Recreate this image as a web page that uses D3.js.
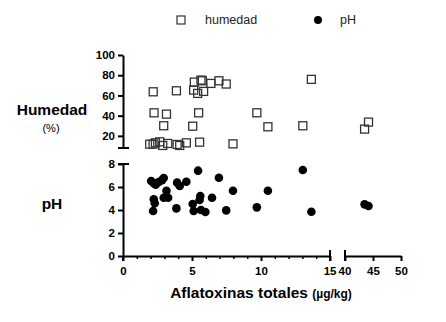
<!DOCTYPE html>
<html><head><meta charset="utf-8">
<script src="https://cdn.jsdelivr.net/npm/d3@7"></script>
<style>body{margin:0;background:#fff}svg{display:block}text{font-family:"Liberation Sans",Arial,sans-serif}</style>
</head><body><svg id="c" width="446" height="322"></svg>
<script>
const humX = [2.19,3.87,5.17,5.65,5.75,6.37,6.95,7.48,5.12,5.41,5.84,2.25,3.15,5.48,9.70,2.95,5.05,10.5,1.94,2.18,2.35,2.66,2.88,3.24,3.92,4.11,4.59,5.55,7.97,13.65,13.03,44.2,43.5];
const humY = [63.6,64.6,73.2,75.2,74.5,71.9,74.5,71.3,65.3,62,64,42.8,41.5,42.8,42.8,30,29.6,29,11.8,11.8,13.1,14.1,10.5,12.5,11.5,10.5,13.1,13.8,12.1,75.9,30,33.6,26.7];
const phX = [2.04,2.23,2.37,2.59,2.83,2.95,2.23,2.30,2.18,3.15,2.95,3.27,3.87,3.92,4.11,4.59,5.44,5.05,5.12,5.55,5.6,5.65,5.97,6.45,6.95,7.48,7.97,9.70,10.5,13.03,13.65,43.5,44.2];
const phY = [6.52,6.32,6.2,6.43,6.6,6.78,4.93,4.58,3.91,5.68,5.07,5.07,4.14,6.38,6.09,6.46,7.42,4.52,3.91,4.87,5.22,4.0,3.83,5.07,6.81,3.97,5.68,4.23,5.68,7.48,3.85,4.49,4.35];
const xTicksA = [0,5,10,15];
const xTicksB = [40,45,50];
const humTicks = [20,40,60,80,100];
const phTicks = [0,2,4,6,8];

const svg = d3.select("#c");
const xA = d3.scaleLinear().domain([0,15]).range([123,330]);
const xB = d3.scaleLinear().domain([40,50]).range([345,401]);
const xs = v => v >= 40 ? xB(v) : xA(v);
const yH = d3.scaleLinear().domain([8,100]).range([148,55]);
const yP = d3.scaleLinear().domain([0,8]).range([256,164]);

function style(g){
  g.selectAll("path,line").attr("stroke","#000").attr("stroke-width",2);
  g.selectAll("text").attr("font-size","11.5px").attr("font-weight","bold").attr("fill","#000");
}
const gxA = svg.append("g").attr("transform","translate(0,256)")
  .call(d3.axisBottom(xA).tickValues(xTicksA).tickSize(5).tickSizeOuter(0).tickPadding(6));
style(gxA);
gxA.selectAll(".tick text").filter(d=>d===15).attr("text-anchor","end").attr("dx","6");
svg.append("g").attr("transform","translate(0,256)")
  .call(d3.axisBottom(xA).tickValues(d3.range(1,15).filter(d=>d%5)).tickSize(3).tickFormat(""))
  .call(g=>{g.select(".domain").remove();g.selectAll("line").attr("stroke","#000").attr("stroke-width",1.5);});
const gxB = svg.append("g").attr("transform","translate(0,256)")
  .call(d3.axisBottom(xB).tickValues(xTicksB).tickSize(5).tickSizeOuter(0).tickPadding(6));
style(gxB);
gxB.selectAll(".tick text").filter(d=>d===40).attr("text-anchor","start").attr("dx","-7");
[xA(15), xB(40)].forEach(x=>svg.append("line").attr("x1",x).attr("x2",x).attr("y1",250).attr("y2",261).attr("stroke","#000").attr("stroke-width",2));

const gH = svg.append("g").attr("transform","translate(123,0)")
  .call(d3.axisLeft(yH).tickValues(humTicks).tickSize(5).tickSizeOuter(0).tickPadding(3));
style(gH);
svg.append("line").attr("x1",118).attr("x2",129).attr("y1",yH(8)).attr("y2",yH(8)).attr("stroke","#000").attr("stroke-width",2);
const gP = svg.append("g").attr("transform","translate(123,0)")
  .call(d3.axisLeft(yP).tickValues(phTicks).tickSize(5).tickSizeOuter(0).tickPadding(3));
style(gP);
svg.append("line").attr("x1",118).attr("x2",129).attr("y1",yP(8)).attr("y2",yP(8)).attr("stroke","#000").attr("stroke-width",2);
svg.append("line").attr("x1",123).attr("x2",123).attr("y1",256).attr("y2",261).attr("stroke","#000").attr("stroke-width",2);

svg.append("g").selectAll("rect").data(humX.map((x,i)=>[x,humY[i]])).join("rect")
  .attr("x",d=>xs(d[0])-4).attr("y",d=>yH(d[1])-4).attr("width",8).attr("height",8)
  .attr("fill","none").attr("stroke","#333").attr("stroke-width",1.3);
svg.append("g").selectAll("circle").data(phX.map((x,i)=>[x,phY[i]])).join("circle")
  .attr("cx",d=>xs(d[0])).attr("cy",d=>yP(d[1])).attr("r",4.3).attr("fill","#000");

svg.append("text").attr("x",52).attr("y",115).attr("text-anchor","middle").attr("font-size","15.5px").attr("font-weight","bold").text("Humedad");
svg.append("text").attr("x",51).attr("y",132).attr("text-anchor","middle").attr("font-size","11px").text("(%)");
svg.append("text").attr("x",52).attr("y",209).attr("text-anchor","middle").attr("font-size","15.5px").attr("font-weight","bold").text("pH");
const t = svg.append("text").attr("x",261).attr("y",298).attr("text-anchor","middle").attr("font-weight","bold");
t.append("tspan").attr("font-size","15.5px").text("Aflatoxinas totales ");
t.append("tspan").attr("font-size","12px").text("(µg/kg)");

svg.append("rect").attr("x",177).attr("y",16).attr("width",8).attr("height",8).attr("fill","none").attr("stroke","#333").attr("stroke-width",1.2);
svg.append("text").attr("x",205).attr("y",24).attr("font-size","12.5px").attr("fill","#222").text("humedad");
svg.append("circle").attr("cx",318).attr("cy",20).attr("r",4).attr("fill","#000");
svg.append("text").attr("x",340).attr("y",24).attr("font-size","12.5px").attr("fill","#222").text("pH");
</script></body></html>
